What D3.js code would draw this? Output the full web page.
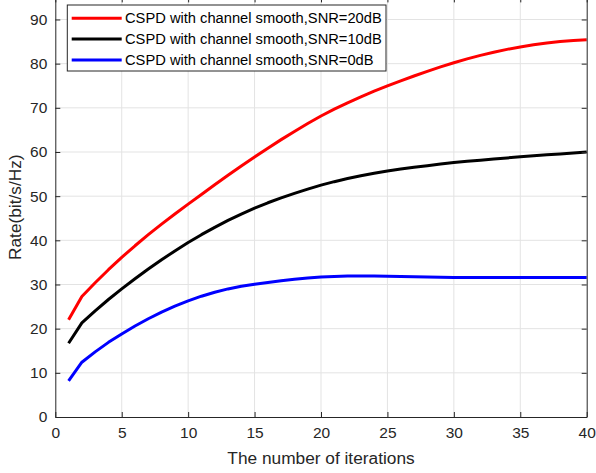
<!DOCTYPE html>
<html>
<head>
<meta charset="utf-8">
<script src="https://cdn.jsdelivr.net/npm/d3@7"></script>
<style>
  body { margin: 0; background: #fff; }
  svg { display: block; font-family: "Liberation Sans", Arial, sans-serif; }
</style>
</head>
<body>
<svg width="596" height="473"></svg>
<script>
// iterations 1..40
var iters = d3.range(1, 41);

// rate values (bit/s/Hz) for each SNR
var snr20 = [22.0, 27.3, 30.4, 33.35, 36.15, 38.77, 41.27, 43.67, 45.97, 48.19,
             50.39, 52.57, 54.72, 56.82, 58.87, 60.87, 62.8, 64.66, 66.44, 68.14,
             69.69, 71.14, 72.5, 73.77, 74.96, 76.11, 77.21, 78.26, 79.26, 80.2,
             81.07, 81.87, 82.59, 83.23, 83.79, 84.27, 84.67, 84.99, 85.23, 85.39];
var snr10 = [16.7, 21.3, 24.05, 26.6, 29.0, 31.3, 33.5, 35.6, 37.6, 39.5,
             41.28, 42.94, 44.5, 45.95, 47.3, 48.5, 49.6, 50.63, 51.6, 52.5,
             53.28, 53.98, 54.61, 55.18, 55.7, 56.14, 56.54, 56.91, 57.26, 57.6,
             57.88, 58.15, 58.41, 58.66, 58.9, 59.13, 59.35, 59.57, 59.79, 60.0];
var snr0  = [8.2, 12.4, 14.75, 16.9, 18.8, 20.6, 22.25, 23.75, 25.1, 26.3,
             27.35, 28.25, 29.0, 29.6, 30.05, 30.47, 30.85, 31.19, 31.47, 31.69,
             31.83, 31.91, 31.94, 31.92, 31.87, 31.8, 31.73, 31.67, 31.62, 31.59,
             31.58, 31.58, 31.58, 31.58, 31.58, 31.58, 31.58, 31.58, 31.58, 31.58];

var seriesNames = [
  "CSPD with channel smooth,SNR=20dB",
  "CSPD with channel smooth,SNR=10dB",
  "CSPD with channel smooth,SNR=0dB"
];
var seriesColors = ["#ff0000", "#000000", "#0000ff"];
var xTicks = [0, 5, 10, 15, 20, 25, 30, 35, 40];
var yTicks = [0, 10, 20, 30, 40, 50, 60, 70, 80, 90];

var svg = d3.select("svg");
// plot box (top edge sits just above the window, like the reference)
var plotL = 55.3, plotR = 586.7, plotB = 417, plotT = -2.6;

var x = d3.scaleLinear().domain([0, 40]).range([plotL, plotR]);
var y = d3.scaleLinear().domain([0, 95]).range([plotB, plotT]);

var axisColor = "#262626";

// grid lines
var grid = svg.append("g").attr("stroke", "#e3e3e3").attr("stroke-width", 1);
grid.selectAll(".vx").data(xTicks.slice(1, -1)).enter().append("line")
  .attr("x1", function(d) { return x(d); }).attr("x2", function(d) { return x(d); })
  .attr("y1", plotB).attr("y2", plotT);
grid.selectAll(".hy").data(yTicks.slice(1)).enter().append("line")
  .attr("y1", function(d) { return y(d); }).attr("y2", function(d) { return y(d); })
  .attr("x1", plotL).attr("x2", plotR);

// data lines
var data = [snr20, snr10, snr0];
var line = d3.line()
  .x(function(d, i) { return x(iters[i]); })
  .y(function(d) { return y(d); });

svg.append("g").selectAll("path").data(data).enter().append("path")
  .attr("d", line)
  .attr("fill", "none")
  .attr("stroke", function(d, i) { return seriesColors[i]; })
  .attr("stroke-width", 3)
  .attr("stroke-linejoin", "round");

// axes (inner ticks like matlab)
var xAxis = svg.append("g").attr("transform", "translate(0," + plotB + ")")
  .call(d3.axisBottom(x).tickValues(xTicks).tickSizeInner(-5).tickSizeOuter(0).tickPadding(10));
var xTop = svg.append("g").attr("transform", "translate(0," + plotT + ")")
  .call(d3.axisTop(x).tickValues(xTicks).tickSizeInner(-5).tickSizeOuter(0).tickFormat(""));
var yAxis = svg.append("g").attr("transform", "translate(" + plotL + ",0)")
  .call(d3.axisLeft(y).tickValues(yTicks).tickSizeInner(-5).tickSizeOuter(0).tickPadding(8));
var yRight = svg.append("g").attr("transform", "translate(" + plotR + ",0)")
  .call(d3.axisRight(y).tickValues(yTicks).tickSizeInner(-5).tickSizeOuter(0).tickFormat(""));

[xAxis, xTop, yAxis, yRight].forEach(function(g) {
  g.select(".domain").attr("stroke", axisColor);
  g.selectAll(".tick line").attr("stroke", axisColor);
  g.selectAll("text").attr("fill", axisColor)
    .style("font-size", "15.5px").style("font-family", "'Liberation Sans', Arial, sans-serif");
});
xAxis.selectAll("text").attr("dy", "0.71em");

// axis labels
svg.append("text")
  .attr("x", (plotL + plotR) / 2).attr("y", 464)
  .attr("text-anchor", "middle")
  .attr("fill", axisColor)
  .style("font-size", "17.3px")
  .text("The number of iterations");

svg.append("text")
  .attr("transform", "translate(21," + ((plotB + plotT) / 2) + ") rotate(-90)")
  .attr("text-anchor", "middle")
  .attr("fill", axisColor)
  .style("font-size", "17.3px")
  .text("Rate(bit/s/Hz)");

// legend
var legend = svg.append("g");
legend.append("rect")
  .attr("x", 67.3).attr("y", 5).attr("width", 318.7).attr("height", 66)
  .attr("fill", "#fff").attr("stroke", axisColor).attr("stroke-width", 1);

var rows = legend.selectAll(".row").data(seriesNames).enter().append("g")
  .attr("transform", function(d, i) { return "translate(0," + (18.3 + i * 20.8) + ")"; });
rows.append("line")
  .attr("x1", 71.7).attr("x2", 121.7)
  .attr("stroke", function(d, i) { return seriesColors[i]; })
  .attr("stroke-width", 3);
rows.append("text")
  .attr("x", 125).attr("dy", "0.35em")
  .attr("fill", "#000")
  .style("font-size", "14.7px")
  .text(function(d) { return d; });
</script>
</body>
</html>
